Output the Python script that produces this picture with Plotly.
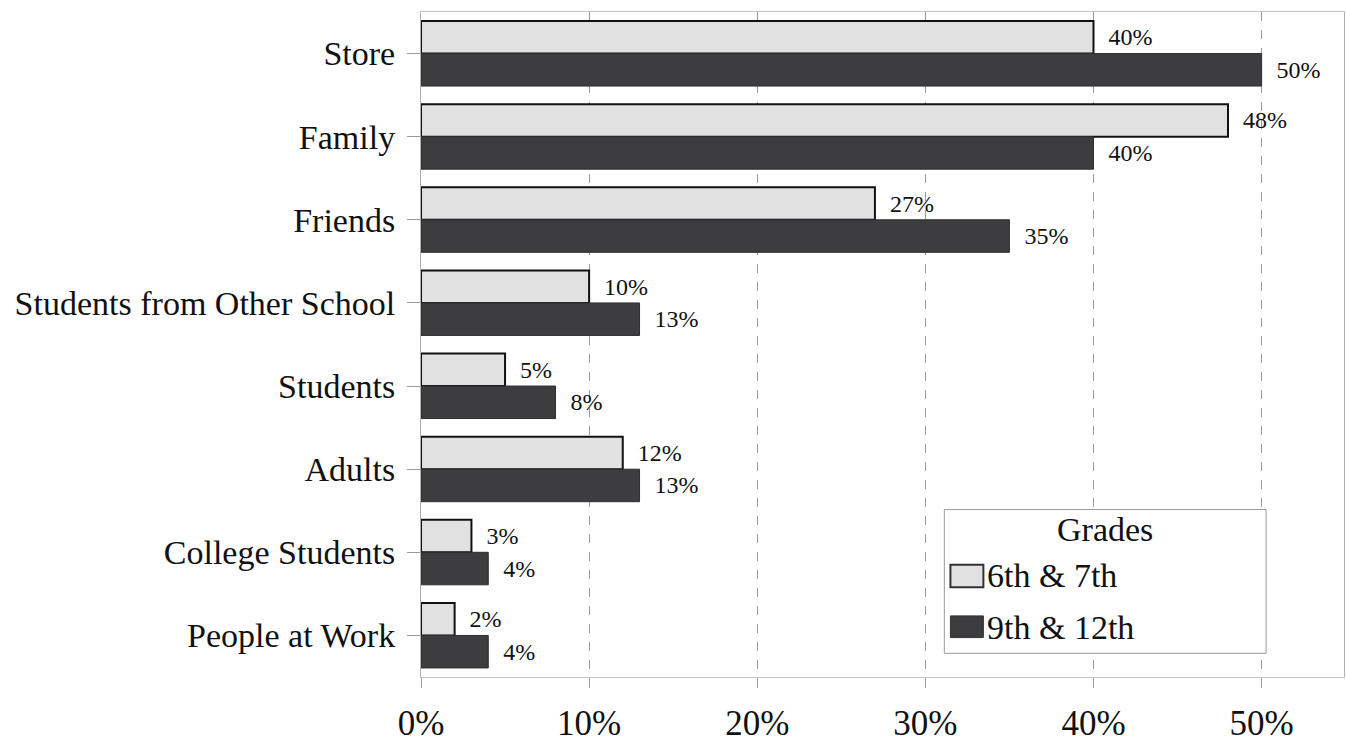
import plotly.graph_objects as go

categories = [
    "Store",
    "Family",
    "Friends",
    "Students from Other School",
    "Students",
    "Adults",
    "College Students",
    "People at Work",
]
grades_6_7 = [40, 48, 27, 10, 5, 12, 3, 2]
grades_9_12 = [50, 40, 35, 13, 8, 13, 4, 4]
series_names = ["6th & 7th", "9th & 12th"]
x_ticks = [0, 10, 20, 30, 40, 50]
x_tick_labels = ["0%", "10%", "20%", "30%", "40%", "50%"]

SERIF = "Liberation Serif, Times New Roman, serif"
LIGHT = "#e1e1e1"
DARK = "#3d3d40"


def pct_labels(values):
    return ["\u00a0\u00a0" + str(v) + "%" for v in values]


fig = go.Figure()
fig.add_trace(go.Bar(
    name=series_names[0], y=categories, x=grades_6_7, orientation="h",
    marker=dict(color=LIGHT, line=dict(color="#111111", width=2)),
    text=pct_labels(grades_6_7), texttemplate="%{text}", textposition="outside",
    textfont=dict(family=SERIF, size=24, color="#111111"),
    cliponaxis=False, showlegend=False,
))
fig.add_trace(go.Bar(
    name=series_names[1], y=categories, x=grades_9_12, orientation="h",
    marker=dict(color=DARK, line=dict(color="#2e2e30", width=1)),
    text=pct_labels(grades_9_12), texttemplate="%{text}", textposition="outside",
    textfont=dict(family=SERIF, size=24, color="#111111"),
    cliponaxis=False, showlegend=False,
))

# Legend box drawn by hand so the swatches can be wide rectangles
box = dict(x0=0.567, x1=0.9156, y0=0.0356, y1=0.2519)
shapes = [
    dict(type="rect", xref="paper", yref="paper", layer="above",
         fillcolor="white", line=dict(color="#9a9a9a", width=1), **box),
    dict(type="rect", xref="paper", yref="paper", layer="above",
         x0=0.5736, x1=0.6093, y0=0.1348, y1=0.1689,
         fillcolor=LIGHT, line=dict(color="#333333", width=2)),
    dict(type="rect", xref="paper", yref="paper", layer="above",
         x0=0.5736, x1=0.6093, y0=0.0593, y1=0.0919,
         fillcolor=DARK, line=dict(color="#333333", width=1)),
]
annotations = [
    dict(text="Grades", xref="paper", yref="paper", x=0.741, y=0.2215,
         xanchor="center", yanchor="middle", showarrow=False,
         font=dict(family=SERIF, size=34, color="#111111")),
    dict(text=series_names[0], xref="paper", yref="paper", x=0.6115, y=0.1530,
         xanchor="left", yanchor="middle", showarrow=False,
         font=dict(family=SERIF, size=34, color="#111111")),
    dict(text=series_names[1], xref="paper", yref="paper", x=0.6115, y=0.0748,
         xanchor="left", yanchor="middle", showarrow=False,
         font=dict(family=SERIF, size=34, color="#111111")),
]

fig.update_layout(
    width=1346, height=744,
    margin=dict(l=421, r=1, t=12, b=57),
    paper_bgcolor="white", plot_bgcolor="white",
    barmode="group", bargap=0.218, bargroupgap=0,
    shapes=shapes, annotations=annotations,
    showlegend=False,
)
fig.update_traces(constraintext="none")
fig.update_xaxes(
    range=[0, 54.9], tickvals=x_ticks, ticktext=x_tick_labels,
    showgrid=True, gridcolor="#9a9a9a", gridwidth=1, griddash="dash",
    zeroline=False,
    showline=True, mirror=True, linecolor="#c4c4c4", linewidth=1,
    ticks="outside", ticklen=10, tickcolor="#9a9a9a",
    ticklabelstandoff=5,
    tickfont=dict(family=SERIF, size=35, color="#111111"),
)
fig.update_yaxes(
    categoryorder="array", categoryarray=categories, autorange="reversed",
    showgrid=False, zeroline=False,
    showline=True, mirror=True, linecolor="#b0b0b0", linewidth=1,
    ticks="outside", ticklen=13, tickcolor="#9a9a9a",
    ticklabelstandoff=5,
    tickfont=dict(family=SERIF, size=34, color="#111111"),
)

fig.write_html("out.html")
